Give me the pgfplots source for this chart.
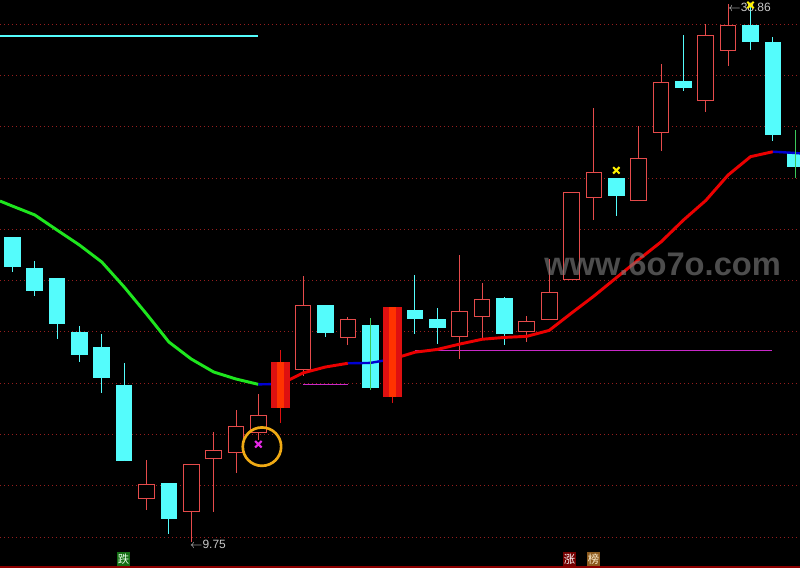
\documentclass[border=0pt]{standalone}
\usepackage{pgfplots}
\pgfplotsset{compat=1.18}
\usepackage{pgfplotstable}
\usepackage{fontspec}
\setmainfont{Liberation Sans}
\newfontfamily\cjk{Noto Sans CJK SC}
\definecolor{upred}{RGB}{230,75,75}
\definecolor{dncyan}{RGB}{84,252,252}
\definecolor{ztouter}{RGB}{222,16,16}
\definecolor{ztinner}{RGB}{255,51,0}
\definecolor{gridred}{RGB}{150,30,30}
\definecolor{magl}{RGB}{200,40,200}
\definecolor{magx}{RGB}{230,40,230}
\definecolor{mared}{RGB}{235,0,0}
\definecolor{magreen}{RGB}{30,230,30}
\definecolor{mablue}{RGB}{0,0,210}
\definecolor{ring}{RGB}{240,170,20}
\definecolor{wickgreen}{RGB}{60,200,90}
\definecolor{labgray}{RGB}{200,200,200}
\definecolor{wm}{RGB}{125,125,125}

% rising (hollow red) candles: index open high low close
\pgfplotstableread{
x o h l c
7 12.09 14.19 11.48 12.87
9 11.39 13.95 9.75 13.95
10 14.26 15.70 11.39 14.73
11 14.58 16.88 13.50 16.01
12 15.63 17.76 15.27 16.61
14 19.07 24.14 18.73 22.58
16 20.81 21.94 20.41 21.82
21 20.86 25.28 19.64 22.25
22 21.94 23.77 20.81 22.88
24 21.10 21.98 20.59 21.71
25 21.78 25.06 21.78 23.28
26 23.94 28.67 23.94 28.67
27 28.38 33.24 27.19 29.76
29 28.19 32.26 28.19 30.51
30 31.90 35.62 30.92 34.63
32 33.60 37.78 33.04 37.19
33 36.34 38.86 35.52 37.73
}\uptab

% falling (cyan) candles
\pgfplotstableread{
x o h l c
1 26.25 26.25 24.38 24.65
2 24.58 24.96 23.06 23.35
3 24.04 24.04 20.75 21.56
4 21.11 21.44 19.49 19.89
5 20.30 21.01 17.83 18.64
6 18.25 19.42 14.15 14.15
8 12.94 12.94 10.20 11.01
15 22.58 22.58 20.86 21.08
17 21.49 21.87 17.98 18.10
19 22.30 24.20 21.02 21.83
20 21.82 22.41 20.48 21.35
23 22.95 22.99 20.43 21.02
28 29.45 29.45 27.41 28.49
31 34.70 37.19 34.17 34.33
34 37.73 38.81 36.39 36.82
35 36.81 37.08 31.47 31.79
36 30.80 32.04 29.46 30.06
}\dntab

% limit-up (filled red) candles
\pgfplotstableread{
x o h l c
13 17.02 20.14 16.21 19.49
18 17.61 22.48 17.29 22.48
}\zttab

% green marker wicks
\pgfplotstableread{
x h l
17 21.87 17.98
36 32.04 29.46
}\gwtab

\pgfplotsset{
  eb/.style 2 args={only marks, mark=none, mark size=0pt, mark options={draw=none, fill=none}, forget plot,
    error bars/.cd, y dir=plus, y explicit, error mark=none,
    error bar style={line width=#1, draw=#2}},
  gridl/.style={line width=0.75pt, draw=gridred, dash pattern=on 0.75pt off 2.25pt, forget plot},
}

\begin{document}
\begin{tikzpicture}
\begin{axis}[
  at={(0,0)}, anchor=south west,
  width=600pt, height=426pt, scale only axis,
  xmin=0.45, xmax=36.212, ymin=8.343, ymax=39.079,
  axis background/.style={fill=black},
  axis line style={draw=none},
  xtick=\empty, ytick=\empty,
  clip=true,
]
% dotted price grid
\addplot[gridl] coordinates {(0.45,10.02) (36.212,10.02)};
\addplot[gridl] coordinates {(0.45,12.79) (36.212,12.79)};
\addplot[gridl] coordinates {(0.45,15.57) (36.212,15.57)};
\addplot[gridl] coordinates {(0.45,18.34) (36.212,18.34)};
\addplot[gridl] coordinates {(0.45,21.12) (36.212,21.12)};
\addplot[gridl] coordinates {(0.45,23.89) (36.212,23.89)};
\addplot[gridl] coordinates {(0.45,26.67) (36.212,26.67)};
\addplot[gridl] coordinates {(0.45,29.44) (36.212,29.44)};
\addplot[gridl] coordinates {(0.45,32.22) (36.212,32.22)};
\addplot[gridl] coordinates {(0.45,34.99) (36.212,34.99)};
\addplot[gridl] coordinates {(0.45,37.76) (36.212,37.76)};

% reference lines
\addplot[dncyan, line width=1.1pt, forget plot] coordinates {(0.45,37.12) (11.98,37.12)};
\addplot[magl, line width=0.8pt, forget plot] coordinates {(14.0,18.28) (16.0,18.28)};
\addplot[magl, line width=0.8pt, forget plot] coordinates {(19.0,20.09) (34.96,20.09)};

% wicks
\addplot[eb={0.75pt}{upred}]
  table[x=x, y=l, y error plus expr=\thisrow{h}-\thisrow{l}] {\uptab};
\addplot[eb={0.75pt}{dncyan}]
  table[x=x, y=l, y error plus expr=\thisrow{h}-\thisrow{l}] {\dntab};
% hollow red bodies
\addplot[eb={12.5pt}{upred}]
  table[x=x, y=o, y error plus expr=\thisrow{c}-\thisrow{o}] {\uptab};
\addplot[eb={11pt}{black}]
  table[x=x, y expr=\thisrow{o}+0.054, y error plus expr=\thisrow{c}-\thisrow{o}-0.108] {\uptab};
% cyan bodies
\addplot[eb={12.5pt}{dncyan}]
  table[x=x, y=c, y error plus expr=\thisrow{o}-\thisrow{c}] {\dntab};

% moving average
\addplot[magreen, line width=2.2pt, forget plot] coordinates {(0.45,28.20) (1,27.93) (2,27.45) (3,26.63) (4,25.82) (5,24.90) (6,23.55) (7,22.09) (8,20.57) (9,19.65) (10,18.95) (11,18.57) (12,18.28)};
\addplot[mablue, line width=1.8pt, forget plot] coordinates {(12,18.28) (13,18.30)};
\addplot[mared, line width=2.2pt, forget plot] coordinates {(13,18.30) (14,18.90) (15,19.22) (16,19.42)};
\addplot[mablue, line width=1.8pt, forget plot] coordinates {(16,19.42) (17,19.44) (18,19.65)};
\addplot[mared, line width=2.2pt, forget plot] coordinates {(18,19.65) (19,20.02) (20,20.17) (21,20.46) (22,20.72) (23,20.82) (24,20.88) (25,21.20) (26,22.14) (27,23.06) (28,24.05) (29,25.03) (30,25.99) (31,27.17) (32,28.23) (33,29.61) (34,30.60) (35,30.87)};
\addplot[mablue, line width=1.8pt, forget plot] coordinates {(35,30.87) (36,30.80) (36.21,30.78)};

% green wick lines
\addplot[eb={0.75pt}{wickgreen}]
  table[x=x, y=l, y error plus expr=\thisrow{h}-\thisrow{l}] {\gwtab};

% limit-up candles
\addplot[eb={0.75pt}{ztouter}]
  table[x=x, y=l, y error plus expr=\thisrow{h}-\thisrow{l}] {\zttab};
\addplot[eb={14.25pt}{ztouter}]
  table[x=x, y=o, y error plus expr=\thisrow{c}-\thisrow{o}] {\zttab};
\addplot[eb={5pt}{ztinner}]
  table[x=x, y=o, y error plus expr=\thisrow{c}-\thisrow{o}] {\zttab};

% signal markers
\addplot[only marks, mark=x, mark size=3.4pt, mark options={line width=1.5pt, draw=yellow}, forget plot]
  coordinates {(28,29.86) (34,38.81)};
\addplot[only marks, mark=x, mark size=3.4pt, mark options={line width=1.5pt, draw=magx}, forget plot]
  coordinates {(12,15.04)};
\addplot[only marks, mark=o, mark size=14.4pt, mark options={line width=2pt, draw=ring, fill=none}, forget plot]
  coordinates {(12.16,14.91)};

% bottom frame line
\addplot[draw={rgb,255:red,140;green,0;blue,0}, line width=1.5pt, forget plot] coordinates {(0.45,8.397) (36.212,8.397)};

% texts
\node[anchor=west, text=labgray, font=\fontsize{9}{9}\selectfont, inner sep=0pt] at (axis cs:8.94,9.60) {$\leftarrow$9.75};
\node[anchor=west, text=labgray, font=\fontsize{9}{9}\selectfont, inner sep=0pt] at (axis cs:33.0,38.70) {$\leftarrow$38.86};
\node[text=wm, text opacity=0.62, font=\fontsize{24.5}{24.5}\selectfont\bfseries, inner sep=0pt] at (axis cs:30.07,24.77) {www.6o7o.com};
\node[fill={rgb,255:red,20;green,110;blue,20}, text={rgb,255:red,230;green,255;blue,230}, minimum width=9.75pt, minimum height=10.5pt, inner sep=0pt, font=\cjk\fontsize{8.5}{8.5}\selectfont] at (axis cs:5.97,8.83) {跌};
\node[fill={rgb,255:red,115;green,0;blue,0}, text=white, minimum width=9.75pt, minimum height=10.5pt, inner sep=0pt, font=\cjk\fontsize{8.5}{8.5}\selectfont] at (axis cs:25.91,8.83) {涨};
\node[fill={rgb,255:red,140;green,90;blue,30}, text={rgb,255:red,255;green,240;blue,210}, minimum width=9.75pt, minimum height=10.5pt, inner sep=0pt, font=\cjk\fontsize{8.5}{8.5}\selectfont] at (axis cs:26.98,8.83) {榜};
\end{axis}
\pgfresetboundingbox
\useasboundingbox (0,0) rectangle (600pt,426pt);
\end{tikzpicture}
\end{document}
